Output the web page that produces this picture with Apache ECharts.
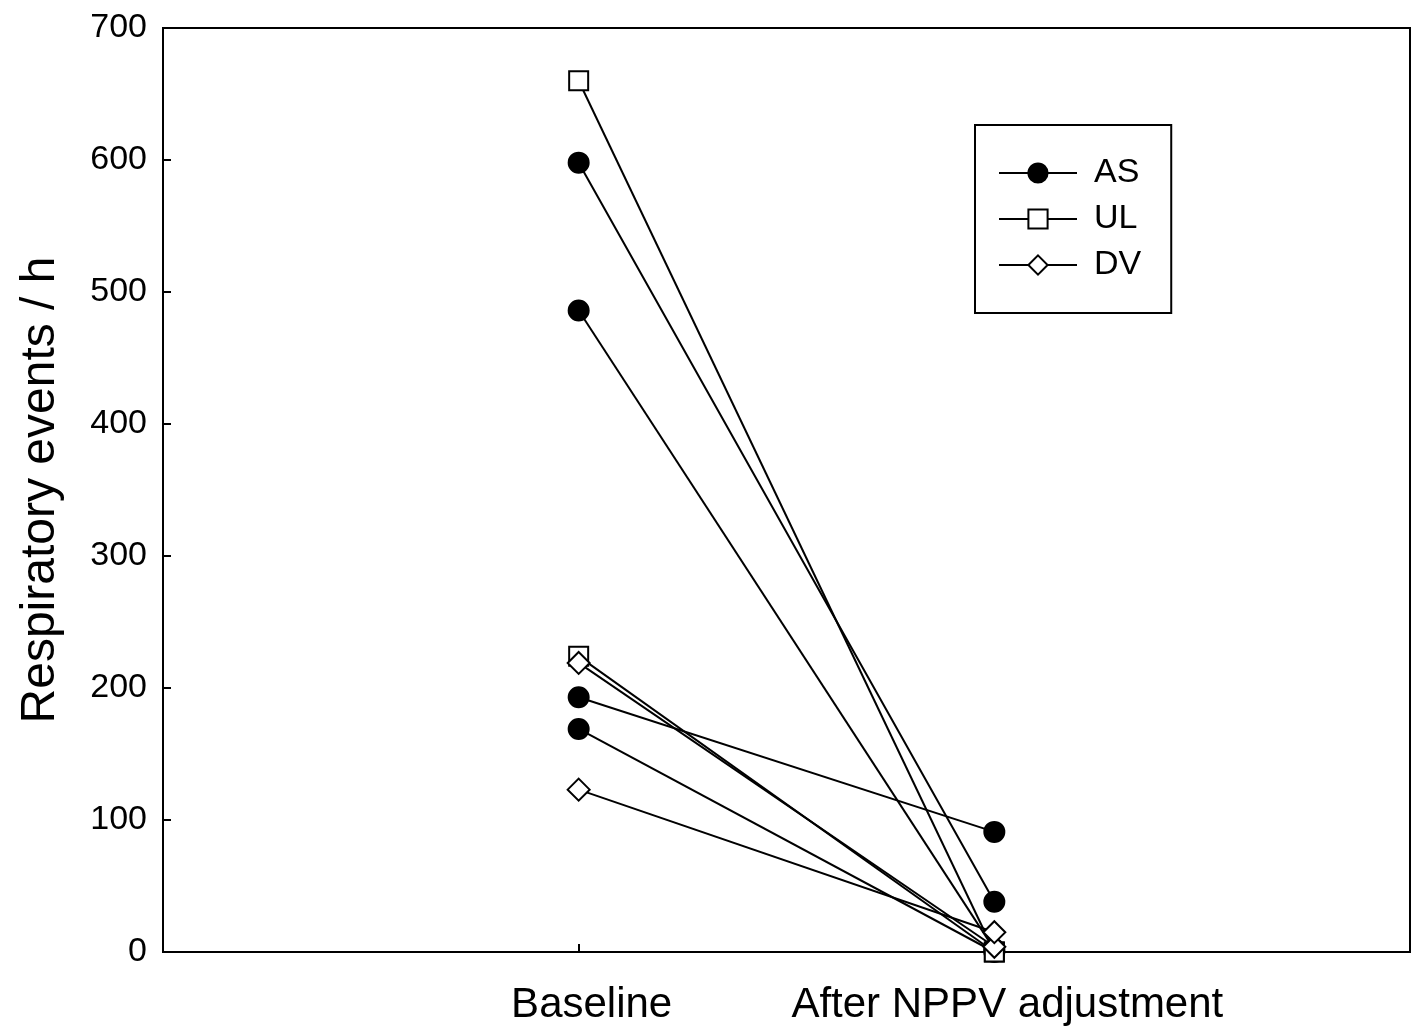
<!DOCTYPE html>
<html>
<head>
<meta charset="utf-8">
<script src="https://cdn.jsdelivr.net/npm/echarts@6/dist/echarts.min.js"></script>
<style>
  html, body { margin: 0; padding: 0; background: #fff; }
  #chart { width: 1417px; height: 1026px; }
</style>
</head>
<body>
<div id="chart"></div>
<script>
// x categories: empty slots at both ends so the two time points sit at 1/3 and 2/3
const categories = ['', 'Baseline', 'After NPPV adjustment', ''];
const yTicks = [0, 100, 200, 300, 400, 500, 600, 700];

// one entry per patient
const groups   = ['AS', 'AS', 'AS', 'AS', 'UL', 'UL', 'DV', 'DV'];
const baseline = [598, 486, 193, 169, 660, 224, 219, 123];
const after    = [38, 2, 91, 0, 0, 0, 4, 15];

const legendNames = ['AS', 'UL', 'DV'];

const font = 'Liberation Sans, Arial, sans-serif';
const symbolOf = { AS: 'circle', UL: 'rect', DV: 'diamond' };
const sizeOf = { AS: 20, UL: 19, DV: 22 };
const fillOf = { AS: '#000', UL: '#fff', DV: '#fff' };

let series = groups.map(function (g, i) {
  return {
    name: g,
    type: 'line',
    symbol: symbolOf[g],
    symbolSize: sizeOf[g],
    showAllSymbol: true,
    z: 2,
    lineStyle: { color: '#000', width: 2 },
    itemStyle: { color: fillOf[g], borderColor: '#000', borderWidth: 2 },
    emphasis: { disabled: true },
    data: [[categories[1], baseline[i]], [categories[2], after[i]]]
  };
});

let chart = echarts.init(document.getElementById('chart'));
chart.setOption({
  animation: false,
  backgroundColor: '#fff',
  grid: {
    left: 163, right: 7, top: 28, bottom: 74,
    show: true, borderColor: '#000', borderWidth: 2, backgroundColor: 'transparent'
  },
  legend: {
    data: legendNames,
    orient: 'vertical',
    left: 975, top: 125,
    padding: [31, 30, 31, 23],
    itemWidth: 78, itemHeight: 24, itemGap: 12,
    borderColor: '#000', borderWidth: 2,
    textStyle: { fontFamily: font, fontSize: 34, color: '#000', padding: [0, 0, 0, 12] }
  },
  xAxis: {
    type: 'category',
    data: categories,
    boundaryGap: false,
    axisLine: { lineStyle: { color: '#000', width: 2 } },
    axisTick: { inside: true, length: 8, lineStyle: { color: '#000', width: 2 }, interval: 0 },
    axisLabel: { fontFamily: font, fontSize: 42, color: '#000', margin: 32, interval: 0, padding: [0, 0, 0, 26] },
    splitLine: { show: false }
  },
  yAxis: {
    type: 'value',
    min: yTicks[0], max: yTicks[yTicks.length - 1], interval: 100,
    name: 'Respiratory events / h',
    nameLocation: 'middle',
    nameGap: 98,
    nameTextStyle: { fontFamily: font, fontSize: 48, color: '#000' },
    axisLine: { show: true, lineStyle: { color: '#000', width: 2 } },
    axisTick: { show: true, inside: true, length: 8, lineStyle: { color: '#000', width: 2 } },
    axisLabel: { fontFamily: font, fontSize: 34, color: '#000', margin: 16 },
    splitLine: { show: false }
  },
  series: series
});
</script>
</body>
</html>
